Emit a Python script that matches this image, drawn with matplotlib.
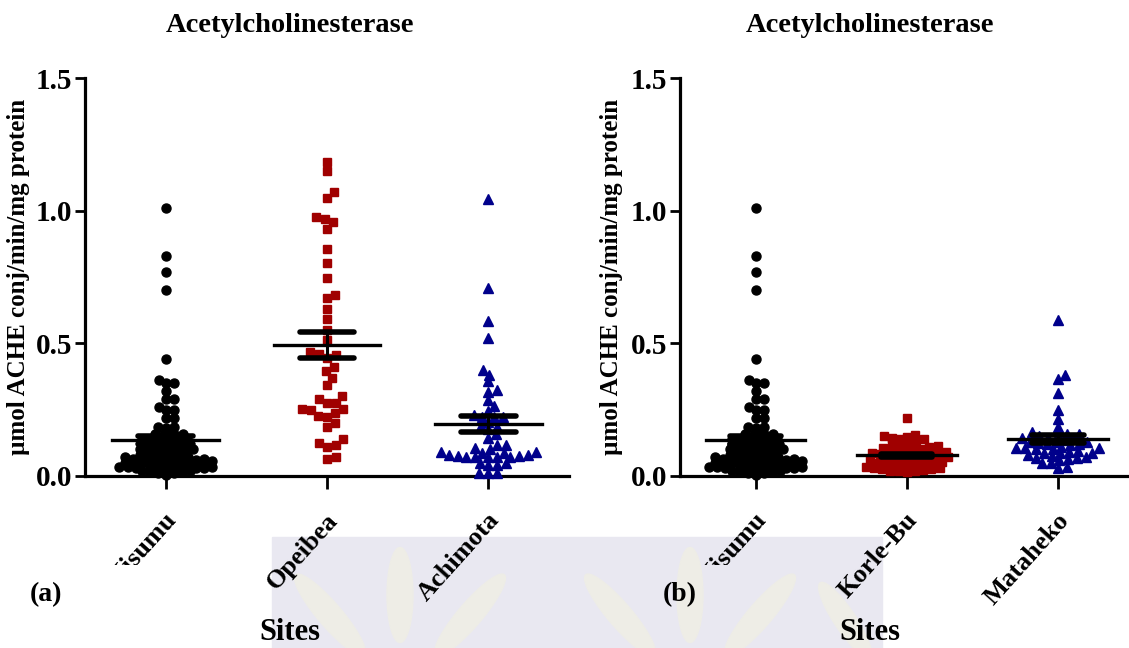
import numpy as np
import matplotlib
matplotlib.use("Agg")
import matplotlib.pyplot as plt
from matplotlib.patches import Rectangle, Ellipse
from matplotlib.transforms import ScaledTranslation, Bbox

# AChE activity per site (umol ACHE conj/min/mg protein)
kisumu = [1.01, 0.83, 0.77, 0.70, 0.44, 0.36, 0.35, 0.35, 0.32, 0.29,
          0.29, 0.26, 0.25, 0.25, 0.22, 0.22, 0.185, 0.185, 0.18, 0.165,
          0.16, 0.16, 0.155, 0.155, 0.145, 0.14, 0.14, 0.14, 0.135, 0.135,
          0.13, 0.13, 0.125, 0.12, 0.12, 0.12, 0.12, 0.115, 0.115, 0.11,
          0.105, 0.10, 0.10, 0.10, 0.10, 0.095, 0.095, 0.09, 0.09, 0.085,
          0.085, 0.08, 0.08, 0.08, 0.075, 0.075, 0.07, 0.07, 0.07, 0.065,
          0.065, 0.065, 0.065, 0.06, 0.06, 0.06, 0.06, 0.055, 0.055, 0.055,
          0.05, 0.05, 0.05, 0.05, 0.05, 0.045, 0.045, 0.045, 0.04, 0.04,
          0.04, 0.035, 0.035, 0.035, 0.035, 0.03, 0.03, 0.03, 0.03, 0.03,
          0.025, 0.025, 0.02, 0.02, 0.02, 0.015, 0.015, 0.01, 0.01, 0.005]

opeibea = [1.184, 1.150, 1.071, 1.049, 0.977, 0.970, 0.956, 0.930, 0.856, 0.802,
           0.748, 0.682, 0.669, 0.629, 0.591, 0.549, 0.514, 0.467, 0.455, 0.461,
           0.446, 0.409, 0.396, 0.371, 0.342, 0.300, 0.292, 0.276, 0.276, 0.251,
           0.251, 0.248, 0.238, 0.226, 0.223, 0.200, 0.185, 0.138, 0.123, 0.117,
           0.110, 0.073, 0.063]

achimota = [1.044, 0.709, 0.586, 0.521, 0.401, 0.382, 0.357, 0.315, 0.323, 0.286,
            0.264, 0.244, 0.229, 0.221, 0.221, 0.221, 0.202, 0.189, 0.183, 0.176,
            0.158, 0.144, 0.117, 0.117, 0.104, 0.102, 0.091, 0.091, 0.088, 0.088,
            0.079, 0.079, 0.075, 0.075, 0.070, 0.070, 0.070, 0.070, 0.070, 0.048,
            0.048, 0.041, 0.041, 0.012, 0.012, 0.012]

korle_bu = [0.217, 0.155, 0.15, 0.148, 0.145, 0.14, 0.138, 0.135, 0.13,
            0.125, 0.12, 0.118, 0.112, 0.11, 0.108, 0.105, 0.10, 0.10, 0.098, 0.095,
            0.092, 0.09, 0.09, 0.088, 0.085, 0.082, 0.08, 0.08, 0.078, 0.075,
            0.072, 0.07, 0.07, 0.068, 0.065, 0.062, 0.06, 0.06, 0.058, 0.055,
            0.052, 0.05, 0.05, 0.048, 0.045, 0.042, 0.04, 0.04, 0.038, 0.035,
            0.032, 0.03, 0.03, 0.028, 0.025, 0.022, 0.02, 0.02, 0.018, 0.015]

mataheko = [0.589, 0.380, 0.364, 0.314, 0.250, 0.215, 0.184, 0.165, 0.16, 0.16,
            0.155, 0.145, 0.145, 0.135, 0.13, 0.13, 0.13, 0.125, 0.12, 0.12,
            0.115, 0.11, 0.105, 0.104, 0.104, 0.1, 0.1, 0.095, 0.09, 0.088,
            0.086, 0.085, 0.08, 0.075, 0.07, 0.068, 0.068, 0.065, 0.06, 0.05,
            0.048, 0.035, 0.032, 0.14, 0.15]

sites_a = ["Kisumu", "Opeibea", "Achimota"]
sites_b = ["Kisumu", "Korle-Bu", "Mataheko"]
groups_a = [kisumu, opeibea, achimota]
groups_b = [kisumu, korle_bu, mataheko]

colors = ["black", "#a00000", "#00008b"]
markers = ["o", "s", "^"]
msizes = [6.5, 6.0, 7.0]

plt.rcParams["font.family"] = ["Liberation Serif", "DejaVu Serif"]
plt.rcParams["font.weight"] = "bold"

W, H = 1129, 648
fig = plt.figure(figsize=(W / 100, H / 100), dpi=100)

# faint watermark band along the bottom, kept behind everything
fig.patches.append(Rectangle((272 / W, 0), (882 - 272) / W, (648 - 537) / H,
                             transform=fig.transFigure, color="#e9e8f1", zorder=-2))
for cx, cy, w, h, ang in [(330, 615, 28, 90, 25), (400, 595, 26, 95, 0), (470, 615, 28, 90, -25),
                          (620, 615, 28, 90, 25), (690, 595, 26, 95, 0), (760, 615, 28, 90, -25),
                          (845, 620, 24, 80, 20)]:
    fig.patches.append(Ellipse((cx / W, 1 - cy / H), w / W, h / H, angle=ang,
                               transform=fig.transFigure, color="#eeede6", zorder=-1))


def swarm_offsets(vals, px_x, px_y, d, ystretch):
    # simple beeswarm: place points by value, nudge sideways until no overlap
    # (ystretch > 1 lets markers overlap vertically so dense groups stay narrow)
    order = np.argsort(vals)
    placed = []
    offs = np.zeros(len(vals))
    for i in order:
        y = vals[i] * px_y * ystretch
        cands = [0.0]
        for (xj, yj) in placed:
            dy = y - yj
            if abs(dy) < d:
                dx = np.sqrt(d * d - dy * dy)
                cands += [xj + dx, xj - dx]
        cands.sort(key=abs)
        for c in cands:
            if all((c - xj) ** 2 + (y - yj) ** 2 >= d * d - 1e-6 for (xj, yj) in placed):
                break
        placed.append((c, y))
        offs[i] = c / px_x
    return offs


def draw_panel(ax_box, sites, groups, xmax, spacing, stretch):
    ax = fig.add_axes(ax_box)
    ax.patch.set_alpha(0)
    ax.set_xlim(-0.5, xmax)
    ax.set_ylim(0, 1.5)
    px_x = ax_box[2] * W / (xmax + 0.5)
    px_y = ax_box[3] * H / 1.5
    for k, vals in enumerate(groups):
        vals = np.array(vals)
        offs = swarm_offsets(vals, px_x, px_y, spacing[k], stretch[k])
        ax.plot(k + offs, vals, linestyle="none", marker=markers[k], ms=msizes[k],
                color=colors[k], mec=colors[k], clip_on=False, zorder=3)
        m = vals.mean()
        sem = vals.std(ddof=1) / np.sqrt(len(vals))
        ax.plot([k - 0.33, k + 0.33], [m, m], color="black", lw=2.4, zorder=4)
        for v in (m - sem, m + sem):
            ax.plot([k - 0.17, k + 0.17], [v, v], color="black", lw=4, solid_capstyle="round", zorder=4)
        ax.plot([k, k], [m - sem, m + sem], color="black", lw=2.2, zorder=4)

    for s in ["top", "right"]:
        ax.spines[s].set_visible(False)
    for s in ["left", "bottom"]:
        ax.spines[s].set_linewidth(2.3)
    ax.set_yticks([0, 0.5, 1.0, 1.5])
    ax.set_yticklabels(["0.0", "0.5", "1.0", "1.5"], fontsize=21, fontweight="bold")
    ax.tick_params(axis="y", length=7, width=2, pad=2)
    ax.set_xticks(range(len(sites)))
    ax.set_xticklabels(sites, rotation=48, ha="right", va="center", rotation_mode="anchor",
                       fontsize=19, fontweight="bold")
    ax.tick_params(axis="x", length=9, width=2, pad=20)
    for lab in ax.get_xticklabels():
        lab.set_transform(lab.get_transform() + ScaledTranslation(0.07, 0, fig.dpi_scale_trans))
    # the first site label is cut off below the chart area
    first = ax.get_xticklabels()[0]
    first.set_clip_box(Bbox.from_extents(0, H - 565, W, H))
    first.set_clip_on(True)
    ax.set_ylabel("µmol ACHE conj/min/mg protein", fontsize=18, fontweight="bold")
    return ax


bottom = 1 - 476 / H
height = (476 - 78) / H
ax1 = draw_panel([85 / W, bottom, (569 - 85) / W, height], sites_a, groups_a, 2.5,
                 [8.5, 9.0, 9.0], [2.2, 1.0, 1.35])
ax2 = draw_panel([680 / W, bottom, (W - 680) / W, height], sites_b, groups_b, 2.47,
                 [8.5, 8.5, 9.0], [2.2, 1.8, 1.35])
ax1.yaxis.set_label_coords((30 - 85) / (569 - 85), 0.5)
ax2.yaxis.set_label_coords((623 - 680) / (W - 680), 0.5)

for cx in (290, 870):
    fig.text(cx / W, 1 - 25 / H, "Acetylcholinesterase", ha="center", va="center",
             fontsize=20.5, fontweight="bold")
    fig.text(cx / W, 1 - 632 / H, "Sites", ha="center", va="center",
             fontsize=22, fontweight="bold")
fig.text(46 / W, 1 - 595 / H, "(a)", ha="center", va="center", fontsize=20, fontweight="bold")
fig.text(680 / W, 1 - 595 / H, "(b)", ha="center", va="center", fontsize=20, fontweight="bold")

fig.savefig("out.png", dpi=100)
